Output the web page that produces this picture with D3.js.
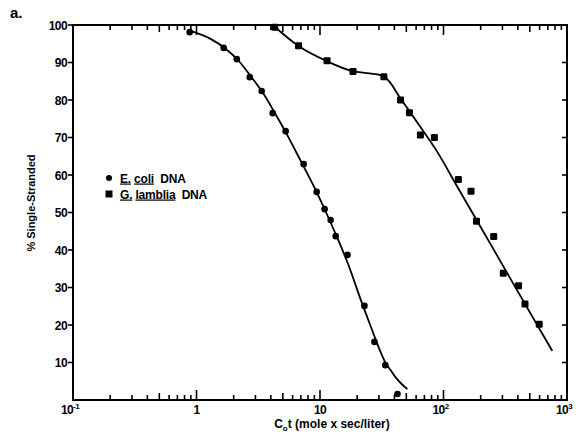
<!DOCTYPE html>
<html><head><meta charset="utf-8">
<script src="https://cdn.jsdelivr.net/npm/d3@7/dist/d3.min.js"></script>
<style>
html,body{margin:0;padding:0;background:#fff;}
svg{display:block;font-family:"Liberation Sans",Arial,Helvetica,sans-serif;}
</style></head><body>
<svg id="chart" width="578" height="439"></svg>
<script>
// ---- data ----
const ecoliX = [0.88, 1.66, 2.12, 2.70, 3.37, 4.14, 5.27, 7.37, 9.4, 10.9, 12.2, 13.4, 16.7, 22.9, 27.6, 33.8, 42.4];
const ecoliY = [98.1, 93.9, 90.9, 86.1, 82.4, 76.5, 71.7, 62.9, 55.5, 50.9, 48.0, 43.7, 38.7, 25.1, 15.5, 9.3, 1.6];
const lambliaX = [4.3, 6.7, 11.4, 18.5, 32.9, 44.9, 53, 65, 84.4, 132, 167, 185, 255, 305, 405, 457, 596];
const lambliaY = [99.4, 94.5, 90.5, 87.6, 86.2, 80.0, 76.6, 70.7, 70.0, 58.8, 55.7, 47.7, 43.6, 33.8, 30.5, 25.6, 20.2];
// fitted curves as drawn in the figure
const ecoliCurveX = [0.88, 1.3, 1.7, 2.2, 2.8, 3.5, 4.3, 5.3, 7.0, 9.0, 11.0, 13.5, 17.0, 21.4, 25.5, 29.5, 33.8, 38.0, 41.3, 46.0, 51.0];
const ecoliCurveY = [98.5, 96.3, 93.8, 90.4, 86.0, 81.6, 76.6, 71.3, 63.7, 56.7, 50.6, 44.0, 36.0, 26.7, 20.0, 14.5, 10.0, 7.6, 5.9, 4.2, 2.9];
const lambliaCurveX = [4.14, 6.7, 11.3, 18.4, 25.2, 32.1, 36.5, 44, 53, 63.8, 87, 134, 253, 410, 760];
const lambliaCurveY = [100, 94.4, 90.4, 87.7, 87.1, 86.5, 84.9, 80.8, 77.0, 73.2, 66.7, 56.0, 40.3, 28.3, 13.1];
const xDecades = [0.1, 1, 10, 100, 1000];
const xTickBase = ["10", "1", "10", "10", "10"];
const xTickExp = ["-1", "", "", "2", "3"];
const yTicks = [10, 20, 30, 40, 50, 60, 70, 80, 90, 100];
const legendNames = [["E.", "coli"], ["G.", "lamblia"]];

// ---- layout ----
const L = 73, R = 567, T = 25, B = 400;
const svg = d3.select("#chart");
const x = d3.scaleLog().domain([0.1, 1000]).range([L, R]);
const y = d3.scaleLinear().domain([0, 100]).range([B, T]);

const lw = 2;
const allTicks = x.ticks().filter(v => v > 0.1 - 1e-9 && v < 1000 + 1e-6);
function tickLen(v) {
  const m = Math.round(v / Math.pow(10, Math.floor(Math.log10(v) + 1e-9)));
  if (m === 1) return 10;
  if (m === 5) return 7;
  return 5;
}
const tg = svg.append("g").attr("stroke", "#000").attr("stroke-width", 1.6);
allTicks.forEach(v => {
  const xx = x(v);
  tg.append("line").attr("x1", xx).attr("x2", xx).attr("y1", B).attr("y2", B - tickLen(v));
  tg.append("line").attr("x1", xx).attr("x2", xx).attr("y1", T).attr("y2", T + tickLen(v));
});

yTicks.forEach(v => {
  tg.append("line").attr("x1", L - 5).attr("x2", L).attr("y1", y(v)).attr("y2", y(v));
  if (v < 100) tg.append("line").attr("x1", R).attr("x2", R - 5).attr("y1", y(v)).attr("y2", y(v));
});

svg.append("rect").attr("x", L).attr("y", T).attr("width", R - L).attr("height", B - T)
  .attr("fill", "none").attr("stroke", "#000").attr("stroke-width", lw);

svg.append("g").selectAll("text").data(yTicks).join("text")
  .attr("x", L - 6).attr("y", d => y(d) + 4.5)
  .attr("text-anchor", "end").attr("font-size", 12).attr("font-weight", "bold")
  .attr("letter-spacing", -0.6)
  .text(d => d);

const xl = svg.append("g");
xDecades.forEach((v, i) => {
  const t = xl.append("text").attr("x", x(v) + (xTickExp[i] ? -3 : 0)).attr("y", B + 14)
    .attr("text-anchor", "middle").attr("font-size", 12).attr("font-weight", "bold")
    .attr("letter-spacing", -0.6);
  t.append("tspan").text(xTickBase[i]);
  if (xTickExp[i]) t.append("tspan").attr("font-size", 8).attr("dy", -5).text(xTickExp[i]);
});

const xt = svg.append("text").attr("x", 332).attr("y", 428).attr("text-anchor", "middle")
  .attr("font-size", 12).attr("font-weight", "bold");
xt.append("tspan").text("C");
xt.append("tspan").attr("font-size", 8).attr("dy", 3).text("o");
xt.append("tspan").attr("dy", -3).text("t (mole x sec/liter)");

svg.append("text").attr("transform", "translate(35,203) rotate(-90)")
  .attr("text-anchor", "middle").attr("font-size", 11).attr("font-weight", "bold")
  .text("% Single-Stranded");

svg.append("text").attr("x", 10).attr("y", 18).attr("font-size", 15).attr("font-weight", "bold").text("a.");

const line = d3.line().x(d => x(d[0])).y(d => y(d[1])).curve(d3.curveMonotoneX);
svg.append("path").datum(ecoliCurveX.map((v, i) => [v, ecoliCurveY[i]]))
  .attr("d", line).attr("fill", "none").attr("stroke", "#000").attr("stroke-width", 1.8);
svg.append("path").datum(lambliaCurveX.map((v, i) => [v, lambliaCurveY[i]]))
  .attr("d", line).attr("fill", "none").attr("stroke", "#000").attr("stroke-width", 1.8);

svg.append("g").selectAll("circle").data(ecoliX.map((v, i) => [v, ecoliY[i]])).join("circle")
  .attr("cx", d => x(d[0])).attr("cy", d => y(d[1])).attr("r", 3.3).attr("fill", "#000");
const sq = 7;
svg.append("g").selectAll("rect").data(lambliaX.map((v, i) => [v, lambliaY[i]])).join("rect")
  .attr("x", d => x(d[0]) - sq / 2).attr("y", d => y(d[1]) - sq / 2)
  .attr("width", sq).attr("height", sq).attr("rx", 1.2).attr("fill", "#000");

const lg = svg.append("g");
lg.append("circle").attr("cx", 109).attr("cy", 178).attr("r", 3).attr("fill", "#000");
lg.append("rect").attr("x", 105.5).attr("y", 190.5).attr("width", 7).attr("height", 7).attr("fill", "#000");
legendNames.forEach((n, i) => {
  const t = lg.append("text").attr("x", 120).attr("y", 182.5 + i * 16).attr("font-size", 12)
    .attr("font-weight", "bold").attr("letter-spacing", -0.2);
  t.append("tspan").attr("text-decoration", "underline").text(n[0]);
  t.append("tspan").text("\u00a0");
  t.append("tspan").attr("text-decoration", "underline").text(n[1]);
  t.append("tspan").text("\u00a0\u00a0DNA");
});
</script>
</body></html>
